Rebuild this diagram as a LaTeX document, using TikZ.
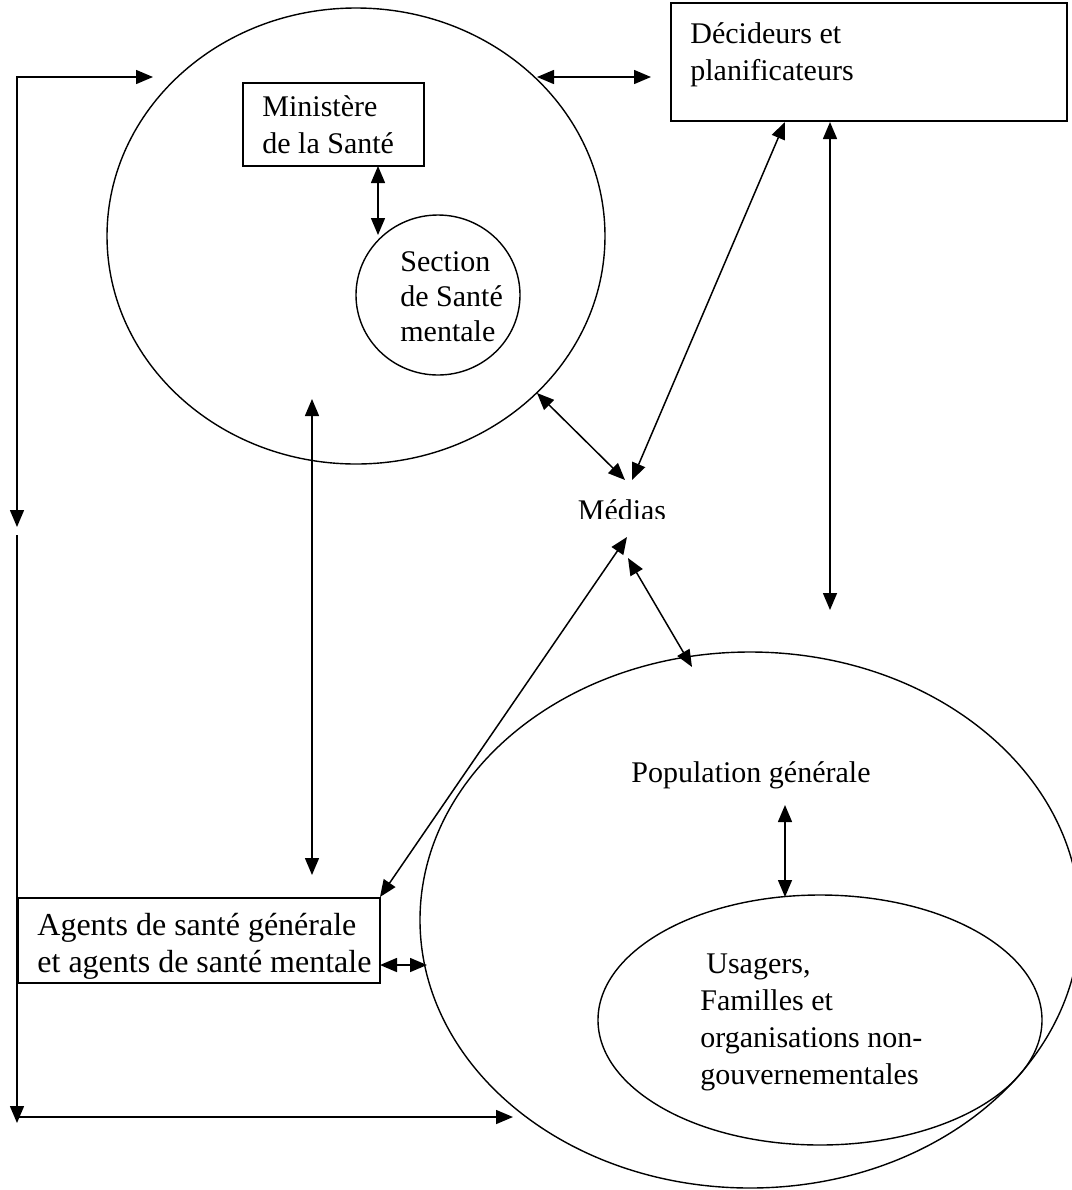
\documentclass[tikz,border=0pt]{standalone}
\usepackage{fontspec}
\setmainfont{Liberation Serif}
\usetikzlibrary{arrows.meta,shapes.geometric}
\begin{document}
\begin{tikzpicture}[x=0.5pt,y=-0.5pt,
  >={Triangle[length=8.5pt,width=7pt]},
  ln/.style={line width=0.75pt},
  box/.style={draw,rectangle,line width=0.7pt,inner sep=0pt},
  oval/.style={draw,ellipse,line width=0.7pt,inner sep=0pt},
  txt/.style={inner sep=0pt,align=left,font=\fontsize{15}{18.5}\selectfont}]
\useasboundingbox (0,0) rectangle (1072,1190);

% shapes
\node[oval,minimum width=249pt,minimum height=228pt] (moh) at (356,236) {};
\node[box,minimum width=90.5pt,minimum height=41.5pt] (minbox) at (333.5,124.5) {};
\node[oval,minimum width=82pt,minimum height=80pt] (sect) at (438,295) {};
\node[box,minimum width=198pt,minimum height=59pt] (dec) at (869,62) {};
\node[box,minimum width=181pt,minimum height=42.5pt] (agents) at (199,940.5) {};
\node[oval,minimum width=330pt,minimum height=268pt] (pop) at (750,920) {};
\node[oval,minimum width=222pt,minimum height=125pt] (usr) at (820,1020) {};

% texts
\node[txt,anchor=west] (mint) at (262,125) {Ministère\\de la Santé};
\node[txt,anchor=west] (dect) at (690,54.5) {Décideurs et\\planificateurs};
\node[txt,anchor=west,font=\fontsize{15}{17.5}\selectfont] (sectt) at (400,297) {Section\\de Santé\\mentale};
\node[txt,anchor=west,font=\fontsize{16}{18.5}\selectfont] (agt) at (37,946.5) {Agents de santé générale\\et agents de santé mentale};
\node[txt,anchor=west] (usrt) at (700,1022) {\hspace{3pt}Usagers,\\Familles et\\organisations non-\\gouvernementales};
\node[txt] (popt) at (751,775) {Population générale};
\begin{scope}
  \clip (560,470) rectangle (700,518);
  \node[txt,anchor=base] (med) at (622,520) {Médias};
\end{scope}

% connector end points
\coordinate (L1) at (17,527);
\coordinate (L2) at (153,77);
\coordinate (L3) at (17,535);
\coordinate (L4) at (17,1123);
\coordinate (L5) at (17,1117);
\coordinate (L6) at (513,1117);
\coordinate (M1) at (537,77);
\coordinate (M2) at (651,77);
\coordinate (MS1) at (378,166);
\coordinate (MS2) at (378,235);
\coordinate (V1) at (312,399);
\coordinate (V2) at (312,875);
\coordinate (D1) at (785,122);
\coordinate (D2) at (632,480);
\coordinate (E1) at (537,393);
\coordinate (E2) at (625,480);
\coordinate (A1) at (380,897);
\coordinate (A2) at (627,537);
\coordinate (P1) at (628,558);
\coordinate (P2) at (692,667);
\coordinate (R1) at (830,122);
\coordinate (R2) at (830,610);
\coordinate (G1) at (380,965);
\coordinate (G2) at (427,965);
\coordinate (U1) at (785,805);
\coordinate (U2) at (785,897);

% connectors
\draw[ln,<->] (L1) |- (L2);
\draw[ln,->] (L3) -- (L4);
\draw[ln,->] (L5) -- (L6);
\draw[ln,<->] (M1) -- (M2);
\draw[ln,<->] (MS1) -- (MS2);
\draw[ln,<->] (V1) -- (V2);
\draw[ln,<->] (D1) -- (D2);
\draw[ln,<->] (E1) -- (E2);
\draw[ln,<->] (A1) -- (A2);
\draw[ln,<->] (P1) -- (P2);
\draw[ln,<->] (R1) -- (R2);
\draw[ln,<->] (G1) -- (G2);
\draw[ln,<->] (U1) -- (U2);
\end{tikzpicture}
\end{document}
